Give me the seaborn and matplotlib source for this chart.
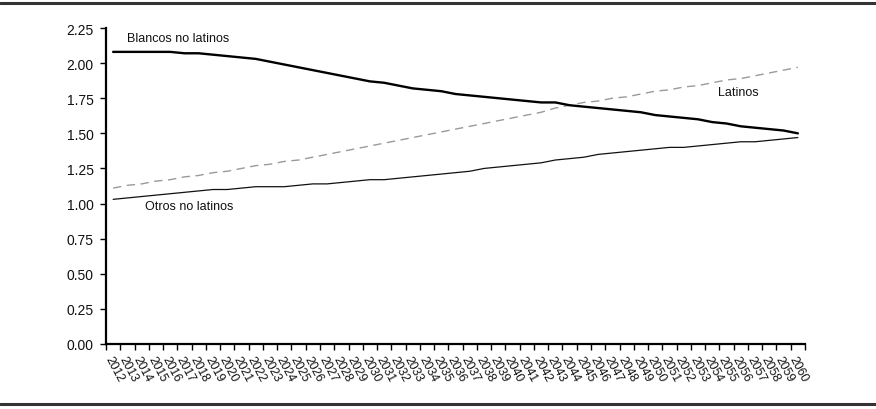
import matplotlib
matplotlib.use("Agg")
import matplotlib.pyplot as plt
import seaborn as sns
import numpy as np
import pandas as pd
from matplotlib.ticker import FixedLocator, FormatStrFormatter
from matplotlib.lines import Line2D

years = [str(y) for y in range(2012, 2061)]

blancos = [2.08, 2.08, 2.08, 2.08, 2.08, 2.07, 2.07, 2.06, 2.05, 2.04,
           2.03, 2.01, 1.99, 1.97, 1.95, 1.93, 1.91, 1.89, 1.87, 1.86,
           1.84, 1.82, 1.81, 1.80, 1.78, 1.77, 1.76, 1.75, 1.74, 1.73,
           1.72, 1.72, 1.70, 1.69, 1.68, 1.67, 1.66, 1.65, 1.63, 1.62,
           1.61, 1.60, 1.58, 1.57, 1.55, 1.54, 1.53, 1.52, 1.50]

latinos = [1.11, 1.13, 1.14, 1.16, 1.17, 1.19, 1.20, 1.22, 1.23, 1.25,
           1.27, 1.28, 1.30, 1.31, 1.33, 1.35, 1.37, 1.39, 1.41, 1.43,
           1.45, 1.47, 1.49, 1.51, 1.53, 1.55, 1.57, 1.59, 1.61, 1.63,
           1.65, 1.68, 1.70, 1.72, 1.73, 1.75, 1.76, 1.78, 1.80, 1.81,
           1.83, 1.84, 1.86, 1.88, 1.89, 1.91, 1.93, 1.95, 1.97]

otros = [1.03, 1.04, 1.05, 1.06, 1.07, 1.08, 1.09, 1.10, 1.10, 1.11,
         1.12, 1.12, 1.12, 1.13, 1.14, 1.14, 1.15, 1.16, 1.17, 1.17,
         1.18, 1.19, 1.20, 1.21, 1.22, 1.23, 1.25, 1.26, 1.27, 1.28,
         1.29, 1.31, 1.32, 1.33, 1.35, 1.36, 1.37, 1.38, 1.39, 1.40,
         1.40, 1.41, 1.42, 1.43, 1.44, 1.44, 1.45, 1.46, 1.47]

y_ticks = [0.00, 0.25, 0.50, 0.75, 1.00, 1.25, 1.50, 1.75, 2.00, 2.25]

sns.set_theme(style="white")
plt.rcParams['font.family'] = ['Liberation Sans', 'DejaVu Sans']

fig = plt.figure(figsize=(8.76, 4.10), dpi=100)
ax = fig.add_axes([106/876, 65/410, 699/876, 316/410])

df = pd.DataFrame({"year": years, "Blancos": blancos, "Latinos": latinos, "Otros": otros})

sns.lineplot(data=df, x="year", y="Latinos", ax=ax, color="#9a9a9a",
             linewidth=1.0, sort=False, dashes=False, linestyle=(0, (6, 4)))
sns.lineplot(data=df, x="year", y="Otros", ax=ax, color="#111111",
             linewidth=0.9, sort=False)
sns.lineplot(data=df, x="year", y="Blancos", ax=ax, color="#000000",
             linewidth=1.7, sort=False)

ax.set_xlim(-0.5, len(years) - 0.5)
ax.set_ylim(0, 2.25)
ax.set_yticks(y_ticks)
ax.yaxis.set_major_formatter(FormatStrFormatter('%.2f'))
ax.set_xlabel("")
ax.set_ylabel("")

for s in ["top", "right"]:
    ax.spines[s].set_visible(False)
for s in ["left", "bottom"]:
    ax.spines[s].set_color("black")
    ax.spines[s].set_linewidth(1.6)

ax.tick_params(axis="y", direction="out", length=4, width=1, color="black",
               labelsize=10, labelcolor="#111111", left=True, pad=5)
ax.set_xticks(range(len(years)))
ax.set_xticklabels(years, rotation=-62, ha="left", rotation_mode="anchor",
                   fontsize=8.8, color="#111111")
ax.tick_params(axis="x", which="major", length=0, pad=7)
ax.xaxis.set_minor_locator(FixedLocator(np.arange(-0.5, len(years), 1.0)))
ax.tick_params(axis="x", which="minor", direction="out", length=4, width=1,
               color="black", bottom=True)
ax.grid(False)

ax.text(1.0, 2.18, "Blancos no latinos", fontsize=9, color="#111111", va="center")
ax.text(42.4, 1.795, "Latinos", fontsize=9, color="#111111", va="center")
ax.text(2.25, 0.983, "Otros no latinos", fontsize=9, color="#111111", va="center")

fig.add_artist(Line2D([0, 1], [1 - 4/410, 1 - 4/410], transform=fig.transFigure,
                      color="#333333", linewidth=2.2))
fig.add_artist(Line2D([0, 1], [5/410, 5/410], transform=fig.transFigure,
                      color="#333333", linewidth=2.2))

fig.savefig("out.png", dpi=100)
